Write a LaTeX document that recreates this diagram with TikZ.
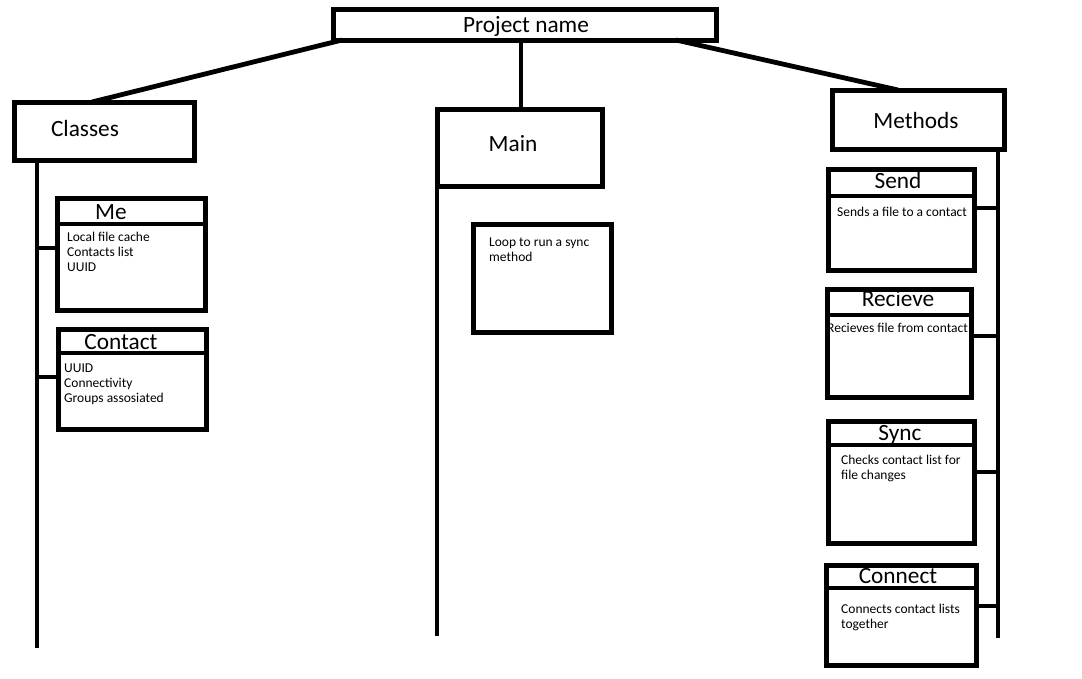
\documentclass[tikz,border=0pt]{standalone}
\usepackage{fontspec}
\setmainfont{Carlito}
\begin{document}
\begin{tikzpicture}[x=1pt,y=-1pt,
  box/.style={draw,line width=5pt,outer sep=0pt,inner sep=0pt},
  wire/.style={line width=4.8pt},
  head/.style={font=\fontsize{23.3}{26}\selectfont,anchor=mid,inner sep=0pt},
  small/.style={font=\fontsize{13.5}{15}\selectfont,anchor=mid west,inner sep=0pt}]
\useasboundingbox (0,0) rectangle (1082,678);
% main boxes
\node[box,minimum width=383pt,minimum height=31pt] (proj) at (524.5,24.5) {};
\node[head] (projt) at (526,30) {Project name};
\node[box,minimum width=180pt,minimum height=58pt] (classes) at (104,131) {};
\node[head] (classest) at (85,134) {Classes};
\node[box,minimum width=165pt,minimum height=77pt] (main) at (519.5,147.5) {};
\node[head] (maint) at (513,149) {Main};
\node[box,minimum width=172pt,minimum height=59pt] (methods) at (918,119.5) {};
\node[head] (methodst) at (916,126) {Methods};
% connectors from project
\draw[wire] (proj.south -| 342,0) -- (classes.north -| 92,0);
\draw[wire] (proj.south -| 521,0) -- (main.north -| 521,0);
\draw[wire] (proj.south -| 676,0) -- (methods.north -| 898,0);
% trunks
\coordinate (clend) at (37,648);
\coordinate (mainend) at (437,636);
\coordinate (methend) at (998,638);
\draw[wire] (classes.south -| clend) -- (clend);
\draw[wire] (main.south -| mainend) -- (mainend);
\draw[wire] (methods.south -| methend) -- (methend);
% Me
\node[box,minimum width=148pt,minimum height=112pt] (me) at (131,254) {};
\draw[wire] (me.west |- 0,224) -- (me.east |- 0,224);
\node[head] (met) at (111,217) {Me};
\node[small] (me1) at (67,239) {Local file cache};
\node[small] (me2) at (67,254) {Contacts list};
\node[small] (me3) at (67,269) {UUID};
\draw[wire] (clend |- 0,248) -- (me.west |- 0,248);
% Contact
\node[box,minimum width=148pt,minimum height=100pt] (contact) at (132,379) {};
\draw[wire] (contact.west |- 0,353) -- (contact.east |- 0,353);
\node[head] (contactt) at (121,347) {Contact};
\node[small] (c1) at (64,370) {UUID};
\node[small] (c2) at (64,385) {Connectivity};
\node[small] (c3) at (64,400) {Groups assosiated};
\draw[wire] (clend |- 0,377) -- (contact.west |- 0,377);
% Loop
\node[box,minimum width=138pt,minimum height=108pt] (loop) at (542,278) {};
\node[small] (loop1) at (489,244) {Loop to run a sync};
\node[small] (loop2) at (489,259) {method};
% Send
\node[box,minimum width=146pt,minimum height=101pt] (send) at (901,219.5) {};
\draw[wire] (send.west |- 0,196) -- (send.east |- 0,196);
\node[head] (sendt) at (898,186) {Send};
\node[small] (sendb) at (837,214) {Sends a file to a contact};
\draw[wire] (send.east |- 0,208) -- (methend |- 0,208);
% Recieve
\node[box,minimum width=144pt,minimum height=108pt] (recv) at (899,343) {};
\draw[wire] (recv.west |- 0,315) -- (recv.east |- 0,315);
\node[head] (recvt) at (898,304) {Recieve};
\node[small] (recvb) at (827,330) {Recieves file from contact};
\draw[wire] (recv.east |- 0,336) -- (methend |- 0,336);
% Sync
\node[box,minimum width=146pt,minimum height=122pt] (sync) at (901,482) {};
\draw[wire] (sync.west |- 0,445) -- (sync.east |- 0,445);
\node[head] (synct) at (900,438) {Sync};
\node[small] (sync1) at (841,462) {Checks contact list for};
\node[small] (sync2) at (841,477) {file changes};
\draw[wire] (sync.east |- 0,472) -- (methend |- 0,472);
% Connect
\node[box,minimum width=150pt,minimum height=100pt] (conn) at (901,615) {};
\draw[wire] (conn.west |- 0,588) -- (conn.east |- 0,588);
\node[head] (connt) at (898,581) {Connect};
\node[small] (conn1) at (841,611) {Connects contact lists};
\node[small] (conn2) at (841,626) {together};
\draw[wire] (conn.east |- 0,606) -- (methend |- 0,606);
\end{tikzpicture}
\end{document}
